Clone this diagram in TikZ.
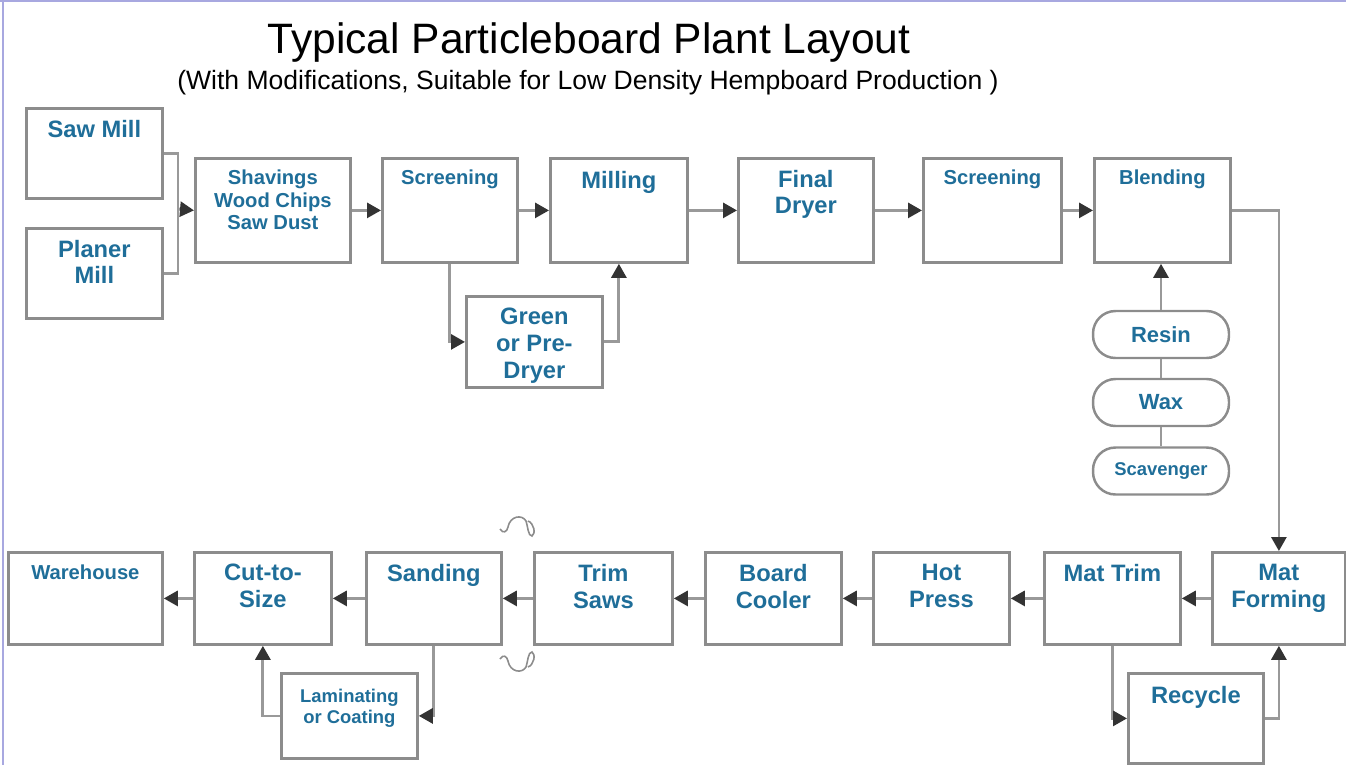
\documentclass[tikz,border=0pt]{standalone}
\usepackage{fontspec}
\setmainfont{Liberation Sans}
\usetikzlibrary{arrows.meta,positioning}
\definecolor{boxgray}{rgb}{0.55, 0.55, 0.55}
\definecolor{linegray}{rgb}{0.6, 0.6, 0.6}
\definecolor{tipblack}{rgb}{0.2, 0.2, 0.2}
\definecolor{labelblue}{rgb}{0.12, 0.43, 0.6}
\definecolor{framelilac}{rgb}{0.66, 0.66, 0.88}

\tikzset{
  unit/.style={draw=boxgray, line width=1.6pt, anchor=north west, inner sep=0pt,
    minimum width=2.72cm},
  topunit/.style={unit, minimum height=2.08cm},
  lowunit/.style={unit, minimum height=1.84cm},
  bigtxt/.style={text=labelblue, align=center, inner sep=0pt,
    font=\bfseries\fontsize{13.5}{15.3}\selectfont},
  smalltxt/.style={bigtxt, font=\bfseries\fontsize{11.5}{12.8}\selectfont},
  tinytxt/.style={bigtxt, font=\bfseries\fontsize{10.5}{12}\selectfont},
  additive/.style={draw=boxgray, line width=1.4pt, rounded corners=0.45cm,
    minimum width=2.72cm, minimum height=0.94cm, inner sep=0pt, text=labelblue},
  link/.style={draw=linegray, line width=1.6pt},
  flow/.style={link, -{Triangle[length=0.28cm, width=0.3cm, color=tipblack]}},
  squig/.style={draw=boxgray, line width=0.9pt},
}

\begin{document}
\begin{tikzpicture}[x=0.02cm, y=-0.02cm]
  \useasboundingbox (0,0) rectangle (1346,765);
  \draw [framelilac, line width=0.04cm] (0,1) -- (1346,1);
  \draw [framelilac, line width=0.04cm] (3,0) -- (3,765);

  % title
  \node [anchor=base] (title) at (589,53) {\fontsize{24.2}{28}\selectfont Typical Particleboard Plant Layout};
  \node [anchor=base] (subtitle) at (588,89) {\fontsize{15.1}{17}\selectfont (With Modifications, Suitable for Low Density Hempboard Production )};

  % top row
  \node [unit, minimum height=1.8cm] (saw) at (25,107) {};
  \node [unit, minimum height=1.8cm] (planer) at (25,227) {};
  \node [topunit, minimum width=3.1cm] (shavings) at (194,157) {};
  \node [topunit, minimum width=2.7cm] (screenA) at (381,157) {};
  \node [topunit, minimum width=2.74cm] (milling) at (549,157) {};
  \node [topunit, minimum width=2.7cm] (dryer) at (737,157) {};
  \node [topunit, minimum width=2.76cm] (screenB) at (922,157) {};
  \node [topunit] (blending) at (1093,157) {};
  \node [unit, minimum height=1.82cm] (green) at (465,295) {};

  \node [bigtxt, below=0.25cm of saw.north] (sawtxt) {Saw Mill};
  \node [bigtxt, below=0.25cm of planer.north] (planertxt) {Planer\\Mill};
  \node [smalltxt, below=0.26cm of shavings.north] (shavingstxt) {Shavings\\Wood Chips\\Saw Dust};
  \node [smalltxt, below=0.26cm of screenA.north] (screenAtxt) {Screening};
  \node [bigtxt, below=0.27cm of milling.north] (millingtxt) {Milling};
  \node [bigtxt, below=0.25cm of dryer.north] (dryertxt) {Final\\Dryer};
  \node [smalltxt, below=0.26cm of screenB.north] (screenBtxt) {Screening};
  \node [smalltxt, below=0.26cm of blending.north] (blendingtxt) {Blending};
  \node [bigtxt, below=0.25cm of green.north] (greentxt) {Green\\or Pre-\\Dryer};

  % additives
  \node [additive, font=\bfseries\fontsize{12.5}{14}\selectfont] (resin) at (1161,334.5) {Resin};
  \node [additive, font=\bfseries\fontsize{12.5}{14}\selectfont] (wax) at (1161,402.5) {Wax};
  \node [additive, font=\bfseries\fontsize{10.5}{12}\selectfont] (scavenger) at (1161,471) {Scavenger};

  % bottom row
  \node [lowunit, minimum width=3.08cm] (warehouse) at (7,551) {};
  \node [lowunit, minimum width=2.74cm] (cut) at (193,551) {};
  \node [lowunit, minimum width=2.7cm] (sanding) at (365,551) {};
  \node [lowunit, minimum width=2.76cm] (trim) at (533,551) {};
  \node [lowunit] (cooler) at (704,551) {};
  \node [lowunit] (press) at (872,551) {};
  \node [lowunit] (mattrim) at (1043,551) {};
  \node [lowunit, minimum width=2.66cm] (matforming) at (1211,551) {};
  \node [unit, minimum height=1.7cm] (laminating) at (280,672) {};
  \node [unit, minimum width=2.7cm, minimum height=1.8cm] (recycle) at (1127,672) {};

  \node [smalltxt, below=0.26cm of warehouse.north] (warehousetxt) {Warehouse};
  \node [bigtxt, below=0.26cm of cut.north] (cuttxt) {Cut-to-\\Size};
  \node [bigtxt, below=0.26cm of sanding.north] (sandingtxt) {Sanding};
  \node [bigtxt, below=0.26cm of trim.north] (trimtxt) {Trim\\Saws};
  \node [bigtxt, below=0.26cm of cooler.north] (coolertxt) {Board\\Cooler};
  \node [bigtxt, below=0.26cm of press.north] (presstxt) {Hot\\Press};
  \node [bigtxt, below=0.26cm of mattrim.north] (mattrimtxt) {Mat Trim};
  \node [bigtxt, below=0.26cm of matforming.north] (matformingtxt) {Mat\\Forming};
  \node [tinytxt, below=0.34cm of laminating.north] (laminatingtxt) {Laminating\\or Coating};
  \node [bigtxt, below=0.27cm of recycle.north] (recycletxt) {Recycle};

  % connectors
  \coordinate (merge) at (178,209);
  \draw [link] (saw.east) -| (merge) |- (planer.east);
  \draw [flow] (merge) -- (shavings.west);
  \foreach \from/\to in {shavings/screenA, screenA/milling, milling/dryer, dryer/screenB, screenB/blending}
    \draw [flow] (\from.east) -- (\to.west);
  \draw [flow] (screenA.south) |- (green.west);
  \draw [flow] (green.east) -| (milling.south);
  \draw [flow] (blending.east) -| (matforming.north);
  \draw [flow] (resin.north) -- (resin.north |- blending.south);
  \draw [link] (wax.north) -- (resin.south);
  \draw [link] (scavenger.north) -- (wax.south);

  \foreach \from/\to in {matforming/mattrim, mattrim/press, press/cooler, cooler/trim, trim/sanding, sanding/cut, cut/warehouse}
    \draw [flow] (\from.west) -- (\to.east);
  \draw [flow] (sanding.south) |- (laminating.east);
  \draw [flow] (laminating.west) -| (cut.south);
  \draw [flow] (mattrim.south) |- (recycle.west);
  \draw [flow] (recycle.east) -| (matforming.south);

  % turn marks
  \draw [squig] (500,529) .. controls (503,534) and (507,532) .. (508,527)
    .. controls (510,516) and (522,514) .. (526,521)
    .. controls (528,527) and (528,536) .. (532,536)
    .. controls (536,534) and (534,523) .. (528,521);
  \begin{scope}[shift={(0,1188)}, yscale=-1]
    \draw [squig] (500,529) .. controls (503,534) and (507,532) .. (508,527)
      .. controls (510,516) and (522,514) .. (526,521)
      .. controls (528,527) and (528,536) .. (532,536)
      .. controls (536,534) and (534,523) .. (528,521);
  \end{scope}
\end{tikzpicture}
\end{document}
